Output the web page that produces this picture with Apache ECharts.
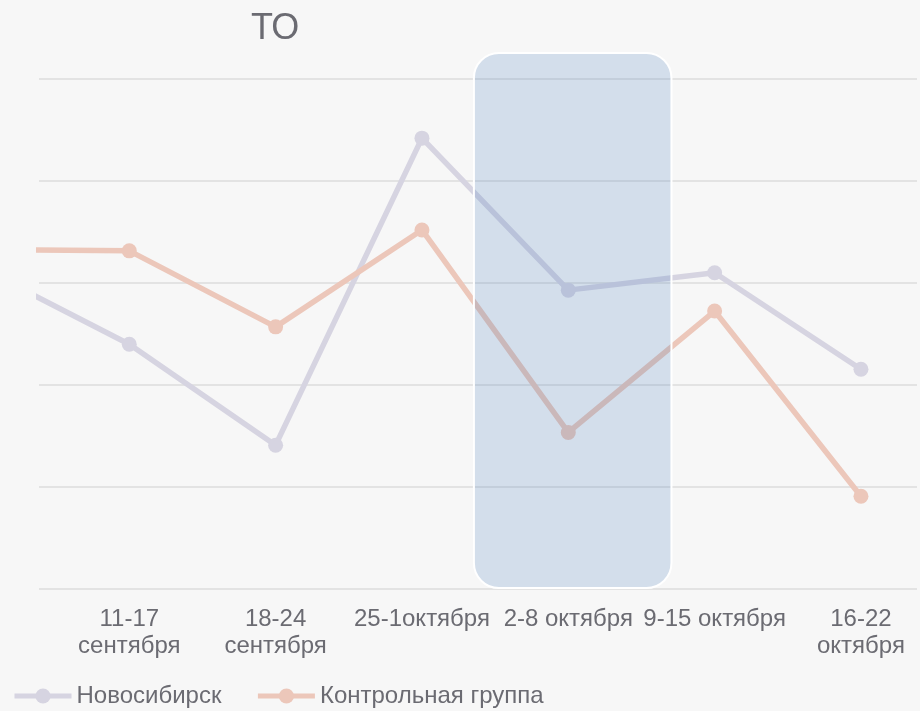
<!DOCTYPE html>
<html>
<head>
<meta charset="utf-8">
<script src="https://cdn.jsdelivr.net/npm/echarts@6/dist/echarts.min.js"></script>
<style>
  html, body { margin: 0; padding: 0; background: #f7f7f7; }
  #chart { width: 920px; height: 711px; }
</style>
</head>
<body>
<div id="chart"></div>
<script>
// Week categories (index 0 is the preceding week, partly visible at the left edge)
const categories = ["4-10 сентября", "11-17 сентября", "18-24 сентября", "25-1октября", "2-8 октября", "9-15 октября", "16-22 октября"];
// Labels as displayed on the axis (wrapped as in the picture)
const tickLabels = ["4-10\nсентября", "11-17\nсентября", "18-24\nсентября", "25-1октября", "2-8 октября", "9-15 октября", "16-22\nоктября"];
const seriesNames = ["Новосибирск", "Контрольная группа"];
const novosibirsk = [62.7, 48.0, 28.2, 88.4, 58.6, 62.0, 43.1];
const control = [66.6, 66.3, 51.4, 70.4, 30.7, 54.5, 18.2];
const highlightIndex = 4; // "2-8 октября"

const FONT = "'Liberation Sans', Arial, sans-serif";
const TXT = '#6b6b72';

const chart = echarts.init(document.getElementById('chart'));
const toPoints = arr => arr.map((v, i) => [i, v]);

chart.setOption({
  animation: false,
  backgroundColor: '#f7f7f7',
  title: {
    text: 'ТО',
    left: 251,
    top: 11,
    padding: 0,
    textStyle: { fontFamily: FONT, fontSize: 36, fontWeight: 'normal', color: TXT }
  },
  grid: { left: 39, right: 0, top: 79, bottom: 122, containLabel: false },
  xAxis: {
    type: 'value',
    min: 0.383,
    max: 6.383,
    axisLine: { show: false },
    axisTick: { show: false },
    splitLine: { show: false },
    axisLabel: {
      margin: 17,
      fontFamily: FONT,
      fontSize: 24,
      lineHeight: 27,
      color: TXT,
      showMinLabel: true,
      showMaxLabel: true,
      formatter: v => (Number.isInteger(v) && tickLabels[v] !== undefined) ? tickLabels[v] : ''
    }
  },
  yAxis: {
    type: 'value',
    min: 0,
    max: 100,
    interval: 20,
    axisLine: { show: false },
    axisTick: { show: false },
    axisLabel: { show: false },
    splitLine: { lineStyle: { color: '#dcdcdc', width: 1.5 } }
  },
  legend: {
    data: seriesNames,
    left: 12,
    top: 684,
    padding: 0,
    itemWidth: 57,
    itemHeight: 19,
    itemGap: 34,
    lineStyle: { width: 5 },
    textStyle: { fontFamily: FONT, fontSize: 24, color: TXT }
  },
  series: [
    {
      name: seriesNames[0],
      type: 'line',
      data: toPoints(novosibirsk),
      symbol: 'circle',
      symbolSize: 15,
      lineStyle: { color: '#d6d4e1', width: 5.5 },
      itemStyle: { color: '#d6d4e1' },
      emphasis: { disabled: true },
      clip: true,
      z: 2
    },
    {
      name: seriesNames[1],
      type: 'line',
      data: toPoints(control),
      symbol: 'circle',
      symbolSize: 15,
      lineStyle: { color: '#ecc7ba', width: 5.5 },
      itemStyle: { color: '#ecc7ba' },
      emphasis: { disabled: true },
      clip: true,
      z: 3
    },
    {
      name: 'highlight',
      type: 'custom',
      data: [[highlightIndex, 0]],
      encode: { x: 0, y: 1 },
      clip: false,
      z: 5,
      silent: true,
      renderItem: (params, api) => {
        const idx = api.value(0);
        const topLeft = api.coord([idx - 0.645, 100]);
        const botRight = api.coord([idx + 0.705, 0]);
        const y0 = topLeft[1] - 26;
        const y1 = botRight[1] - 1;
        return {
          type: 'rect',
          shape: { x: topLeft[0], y: y0, width: botRight[0] - topLeft[0], height: y1 - y0, r: 25 },
          style: { fill: 'rgba(72,124,190,0.2)', stroke: '#ffffff', lineWidth: 2 }
        };
      }
    }
  ]
});
</script>
</body>
</html>
